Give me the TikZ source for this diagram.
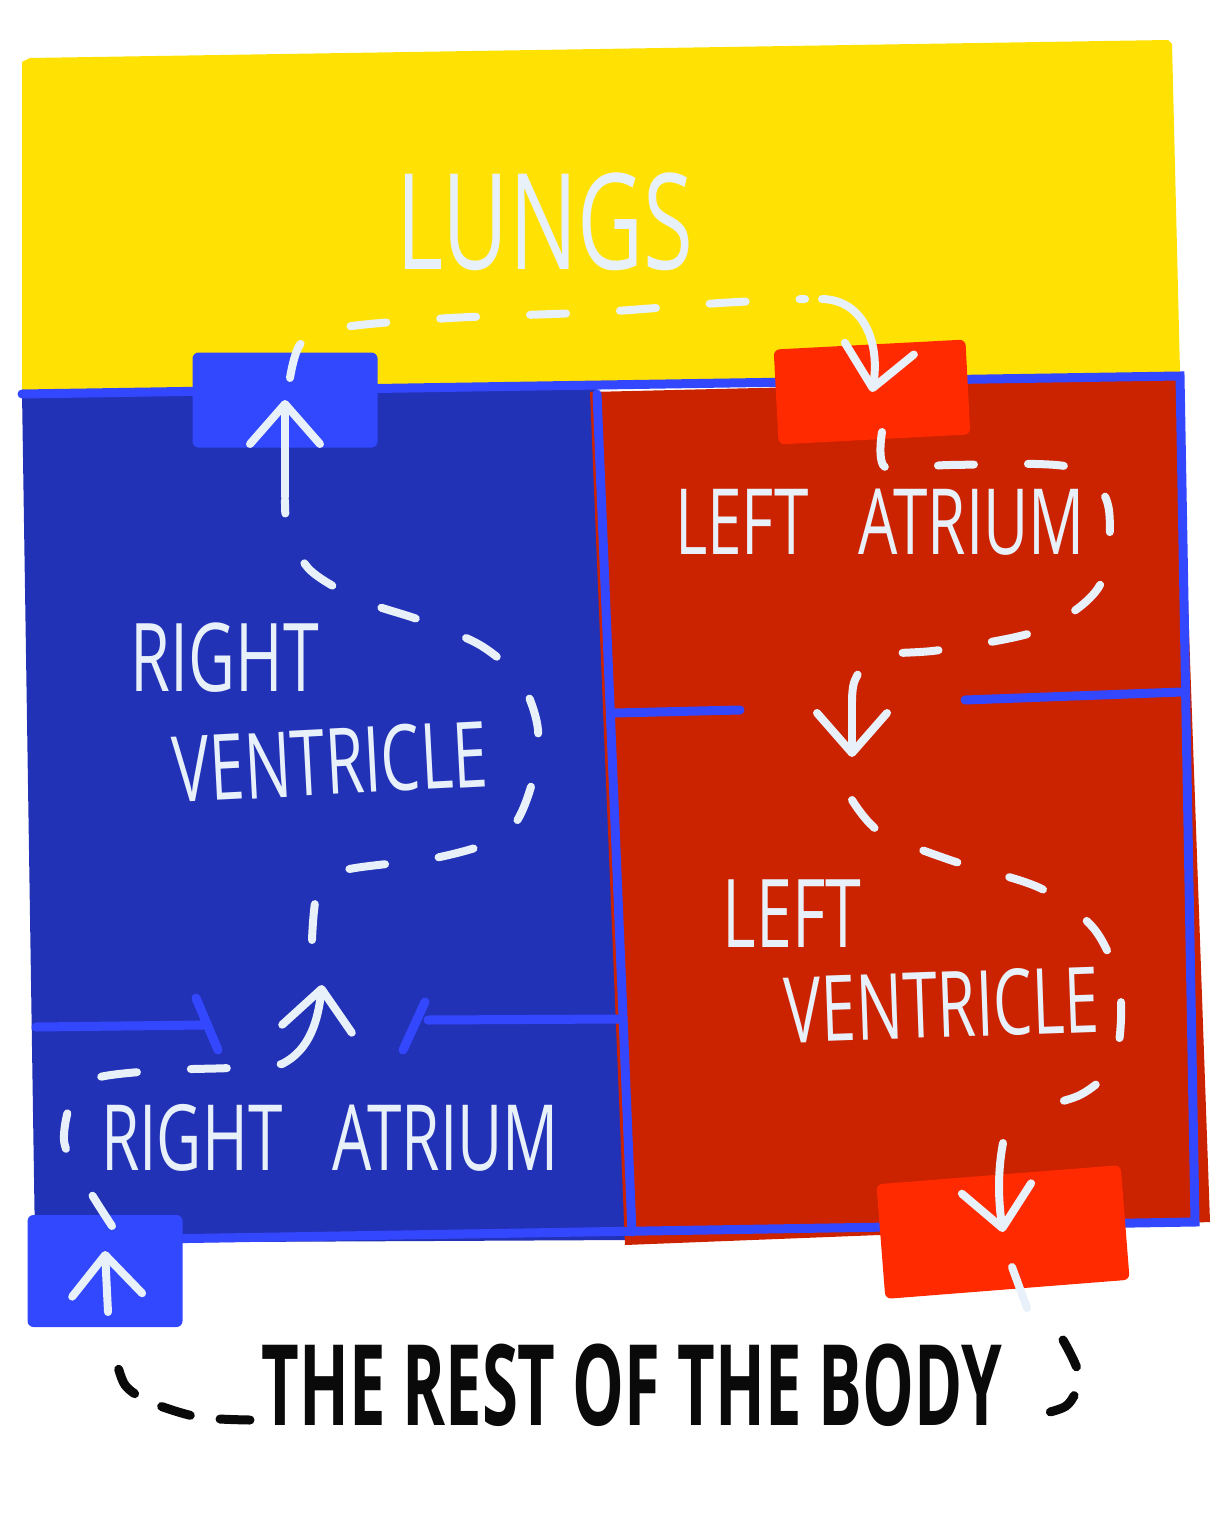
\documentclass[tikz,border=0pt]{standalone}
\usepackage{fontspec}
\newfontfamily\handfont[FakeStretch=0.68]{Open Sans}
\newfontfamily\inkfont[FakeStretch=0.58]{Open Sans}
\usetikzlibrary{arrows.meta}
\def\lungsArea{(22,62) -- (30,58) -- (1168,40) -- (1172,44) -- (1180,372) -- (22,396) -- cycle}
\def\rightSide{(22,392) -- (597,388) -- (630,1240) -- (35,1243) -- cycle}
\def\leftSide{(590,392) -- (1180,378) -- (1210,1222) -- (625,1245) -- cycle}
\definecolor{lungs fill}{RGB}{255,226,3}
\definecolor{right fill}{RGB}{34,50,182}
\definecolor{left fill}{RGB}{203,34,0}
\definecolor{wall blue}{RGB}{51,71,255}
\definecolor{valve blue}{RGB}{49,72,255}
\definecolor{valve red}{RGB}{255,42,0}
\definecolor{flow white}{RGB}{232,240,250}
\definecolor{ink}{RGB}{10,10,10}
\tikzset{valve/.style={minimum width=18.5mm, minimum height=9.5mm, rounded corners=0.6mm, inner sep=0pt},
    wall/.style={draw=wall blue, line width=0.9mm, line cap=round},
    flow/.style={draw=flow white, line width=0.8mm, line cap=round, dash pattern=on 3.6mm off 5.4mm},
    flowtip/.style={draw=flow white, line width=0.8mm, line cap=round, -{Straight Barb[length=4mm,width=7mm,round]}},
    bodyflow/.style={draw=ink, line width=0.9mm, line cap=round, dash pattern=on 3mm off 3mm},
    chamber/.style={text=flow white, font=\handfont\fontsize{26}{28}\selectfont, inner sep=0pt}}

\begin{document}
\begin{tikzpicture}[x=0.1mm, y=-0.1mm]
    \useasboundingbox (0,0) rectangle (1231,1523);
    \fill[lungs fill] \lungsArea;
    \fill[right fill] \rightSide;
    \fill[left fill] \leftSide;
    \draw[wall] (22,394) -- (1180,376) -- (1195,1222) -- (35,1241);
    \draw[wall] (597,394) -- (632,1232);
    \draw[wall] (36,1027) -- (205,1025) (196,998) -- (218,1050);
    \draw[wall] (620,1019) -- (428,1020) (425,1002) -- (403,1050);
    \draw[wall] (615,713) -- (740,710) (965,700) -- (1182,692);

    \node[valve, fill=valve blue] (pulmArtery) at (285,400) {};
    \node[valve, fill=valve red, minimum width=19.2mm, rotate=3] (pulmVein) at (872,392) {};
    \node[valve, fill=valve red, minimum width=24.5mm, minimum height=11.5mm, rotate=4.5] (aorta) at (1003,1232) {};
    \node[valve, fill=valve blue, minimum width=15.5mm, minimum height=11.2mm] (venaCava) at (105,1271) {};

    \node[chamber, font=\handfont\fontsize{38}{40}\selectfont] (lungs) at (545,222) {LUNGS};
    \node[chamber, font=\handfont\fontsize{27}{29}\selectfont] (rvTop) at (225,658) {RIGHT};
    \node[chamber, rotate=3] (rvBottom) at (330,762) {VENTRICLE};
    \node[chamber] (la) at (880,522) {LEFT\hspace{5mm}ATRIUM};
    \node[chamber, font=\handfont\fontsize{27}{29}\selectfont] (lvTop) at (792,914) {LEFT};
    \node[chamber, rotate=2] (lvBottom) at (942,1005) {VENTRICLE};
    \node[chamber] (ra) at (330,1138) {RIGHT\hspace{5mm}ATRIUM};
    \node[text=ink, inner sep=0pt, font=\inkfont\bfseries\fontsize{32}{34}\selectfont] (body) at (632,1385) {THE REST OF THE BODY};

    \coordinate (tricuspid) at (322,985);
    \coordinate (mitral) at (852,757);

    \draw[flowtip] (108,1312) -- ([yshift=2mm]venaCava.center);
    \draw[flow] plot[smooth] coordinates {(112,1226) (88,1188) (64,1140) (82,1084) (150,1071) (230,1068) (282,1064)};
    \draw[flowtip] (282,1064) .. controls (310,1050) and (318,1020) .. (tricuspid);
    \draw[flow] plot[smooth] coordinates {(312,940) (318,890) (345,870) (440,857) (505,835) (530,790) (538,730) (520,680) (480,645) (420,620) (360,600) (310,570) (288,530) (285,500)};
    \draw[flowtip] (285,497) -- (pulmArtery.center);
    \draw[flow] plot[smooth] coordinates {(290,378) (302,342) (345,327) (450,318) (600,312) (720,303) (805,299)};
    \draw[flowtip] (822,299) .. controls (865,300) and (880,345) .. (pulmVein.center);
    \draw[flow] plot[smooth] coordinates {(882,432) (886,468) (950,465) (1070,467) (1108,505) (1100,585) (1040,630) (940,650) (875,656) (855,680) (852,702)};
    \draw[flowtip] (852,702) -- (mitral);
    \draw[flow] plot[smooth] coordinates {(852,800) (880,832) (950,860) (1040,888) (1095,930) (1120,990) (1115,1060) (1080,1095) (1015,1112)};
    \draw[flowtip] (1003,1143) .. controls (996,1180) and (1000,1212) .. (aorta.center);
    \draw[flow, dash pattern=] (1012,1267) -- (1027,1308);
    \draw[bodyflow] plot[smooth] coordinates {(1063,1340) (1079,1376) (1066,1406) (1022,1418)};
    \draw[bodyflow] plot[smooth] coordinates {(250,1420) (198,1417) (150,1402) (125,1385) (115,1355)};
\end{tikzpicture}
\end{document}
